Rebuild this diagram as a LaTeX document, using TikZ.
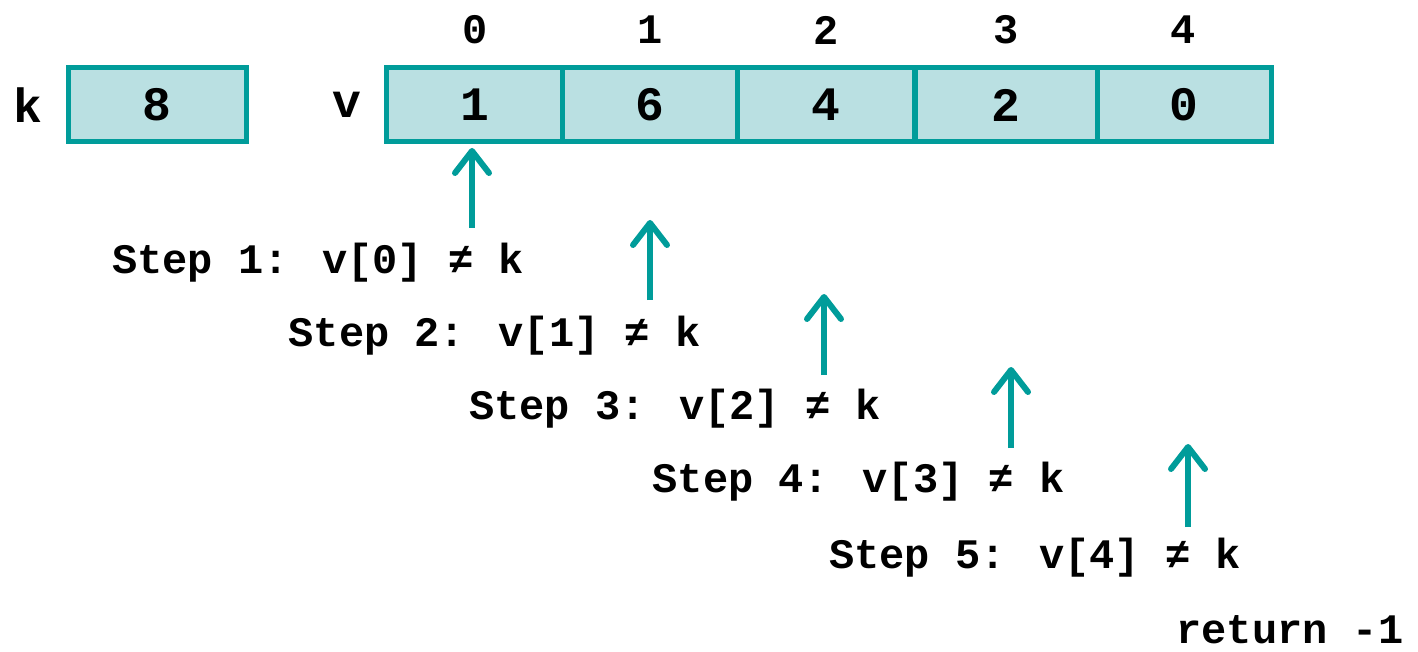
\documentclass[tikz,border=0pt]{standalone}
\usepackage{fontspec}
\setmainfont{Liberation Mono}
\usetikzlibrary{arrows.meta}
\definecolor{teal1}{HTML}{009C9A}
\definecolor{cellfill}{HTML}{BAE0E2}
\begin{document}
\begin{tikzpicture}[x=0.5pt,y=-0.5pt,
  cell/.style={draw=teal1,fill=cellfill,line width=2.5pt,minimum height=37pt,inner sep=0pt,font=\fontsize{24}{28}\selectfont\bfseries},
  lbl/.style={font=\fontsize{24}{28}\selectfont\bfseries,inner sep=0pt},
  idx/.style={font=\fontsize{21}{25}\selectfont\bfseries,inner sep=0pt},
  steptxt/.style={font=\fontsize{21}{25}\selectfont\bfseries,inner sep=0pt},
  ptr/.style={draw=teal1,line width=3pt,-{Straight Barb[length=11pt,width=17pt,line cap=round,line join=round]}}]
\useasboundingbox (0,0) rectangle (1418,652);
% k
\node[lbl] (klab) at (28,105) {k};
\node[cell,minimum width=89pt] (kc) at (157,105) {8};
% v
\node[lbl] (vlab) at (347,105) {v};
\node[cell,minimum width=89pt] (c0) at (475,105) {1};
\node[cell,minimum width=87.5pt] (c1) at (650,105) {6};
\node[cell,minimum width=88.5pt] (c2) at (826,105) {4};
\node[cell,minimum width=91pt] (c3) at (1006,105) {2};
\node[cell,minimum width=87pt] (c4) at (1184,105) {0};
% indices
\node[idx] (i0) at (475,30) {0};
\node[idx] (i1) at (650,30) {1};
\node[idx] (i2) at (826,30) {2};
\node[idx] (i3) at (1006,30) {3};
\node[idx] (i4) at (1183,30) {4};
% arrows
\coordinate (a1s) at (472,228); \coordinate (a1e) at (472,148);
\coordinate (a2s) at (650,300); \coordinate (a2e) at (650,220);
\coordinate (a3s) at (824,375); \coordinate (a3e) at (824,294);
\coordinate (a4s) at (1011,448); \coordinate (a4e) at (1011,367);
\coordinate (a5s) at (1188,527); \coordinate (a5e) at (1188,444);
\draw[ptr] (a1s) -- (a1e);
\draw[ptr] (a2s) -- (a2e);
\draw[ptr] (a3s) -- (a3e);
\draw[ptr] (a4s) -- (a4e);
\draw[ptr] (a5s) -- (a5e);
% step labels
\node[steptxt] (s1) at (318,263) {Step 1: v[0] ≠ k};
\node[steptxt] (s2) at (494.5,336) {Step 2: v[1] ≠ k};
\node[steptxt] (s3) at (675,409) {Step 3: v[2] ≠ k};
\node[steptxt] (s4) at (858.5,482) {Step 4: v[3] ≠ k};
\node[steptxt] (s5) at (1035,558) {Step 5: v[4] ≠ k};
\node[steptxt] (ret) at (1290,630) {return -1};
\end{tikzpicture}
\end{document}
